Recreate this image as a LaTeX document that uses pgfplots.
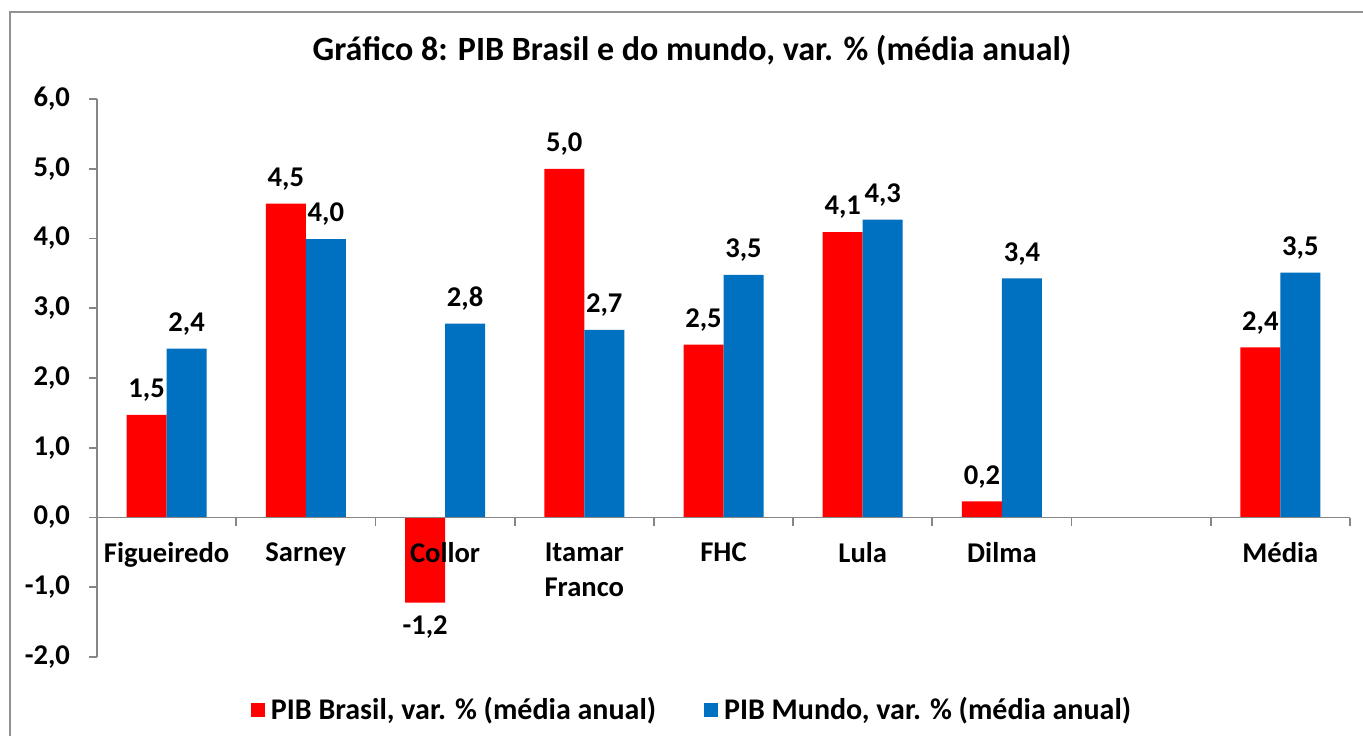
\documentclass[border=0pt]{standalone}
\usepackage{fontspec}
\setmainfont{Carlito}
\usepackage{pgfplots}
\pgfplotsset{compat=1.18}
\definecolor{bred}{HTML}{FF0000}
\definecolor{bblue}{HTML}{0070C0}
\definecolor{axgray}{HTML}{868686}
\newcommand\lbl{\fontsize{14.3}{17.5}\selectfont\bfseries}
\begin{document}
\begin{tikzpicture}
\useasboundingbox (0,0) rectangle (681.5pt,367.5pt);
\fill[white] (0,0) rectangle (681.5pt,367.5pt);
\draw[axgray!90, line width=0.9pt] (5pt,-10pt) |- (700pt,361.5pt);
\begin{axis}[
  at={(48.5pt,39pt)}, anchor=south west, scale only axis,
  width=626.5pt, height=279pt,
  xmin=-0.5, xmax=8.5, ymin=-2, ymax=6,
  ybar=0pt, bar width=20pt,
  axis on top,
  axis x line*=middle, axis y line*=left,
  hide obscured x ticks=false, hide obscured y ticks=false,
  axis line style={axgray, line width=0.9pt},
  tick style={axgray, line width=0.9pt},
  tick align=outside, major tick length=4pt,
  xtick={-0.5,0.5,...,8.5},
  x tick label as interval,
  xticklabels={Figueiredo,Sarney,Collor,{Itamar\\Franco},FHC,Lula,Dilma,{},Média},
  xticklabel style={align=center, font=\lbl, anchor=north, yshift=-5pt},
  ytick={-2,-1,...,6},
  yticklabel style={font=\lbl, xshift=-6pt},
  /pgf/number format/use comma,
  /pgf/number format/fixed,
  /pgf/number format/fixed zerofill,
  /pgf/number format/precision=1,
  /pgf/number format/assume math mode=true,
  nodes near coords,
  every node near coord/.append style={font=\lbl, text=black, inner sep=6.5pt},
  legend style={at={(0.4757,-0.095)}, anchor=center, draw=none, fill=none,
    legend columns=2, font=\fontsize{15}{18}\selectfont\bfseries,
    /tikz/every even column/.append style={column sep=22pt},
    /tikz/every odd column/.append style={column sep=1pt}},
]
\addplot[fill=bred, draw=none,
  legend image code/.code={\fill[bred] (0pt,-3.5pt) rectangle (7pt,3.5pt);}]
  coordinates {(0,1.47) (1,4.50) (2,-1.22) (3,5.00) (4,2.48) (5,4.09) (6,0.23) (8,2.44)};
\addlegendentry{PIB Brasil, var. \% (média anual)}
\addplot[fill=bblue, draw=none,
  legend image code/.code={\fill[bblue] (0pt,-3.5pt) rectangle (7pt,3.5pt);}]
  coordinates {(0,2.42) (1,3.99) (2,2.78) (3,2.69) (4,3.48) (5,4.27) (6,3.43) (8,3.51)};
\addlegendentry{PIB Mundo, var. \% (média anual)}
\end{axis}
\node[font=\fontsize{17}{20}\selectfont\bfseries] at (346pt,342.5pt)
  {Gráfico 8: PIB Brasil e do mundo, var. \% (média anual)};
\end{tikzpicture}
\end{document}
